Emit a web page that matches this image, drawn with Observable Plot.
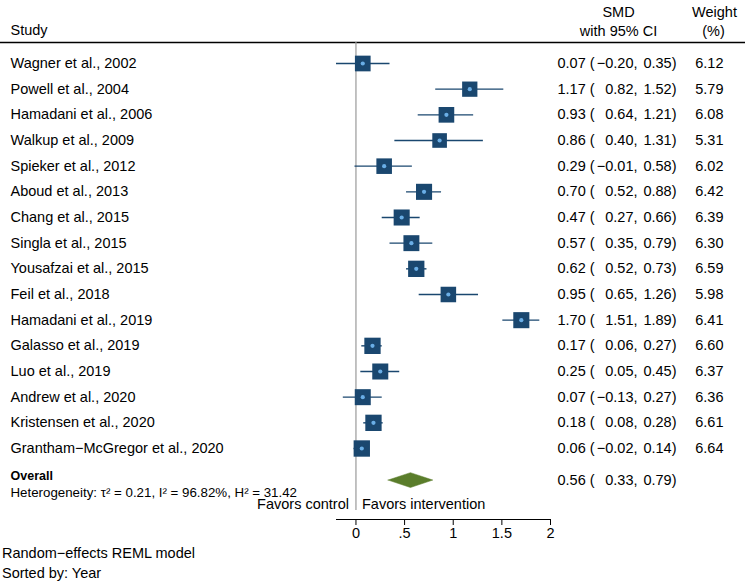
<!DOCTYPE html>
<html>
<head>
<meta charset="utf-8">
<script src="https://cdn.jsdelivr.net/npm/d3@7"></script>
<script src="https://cdn.jsdelivr.net/npm/@observablehq/plot@0.6"></script>
<style>
  html, body { margin: 0; padding: 0; background: white; }
  #chart { width: 745px; }
  .foot { font-family: "Liberation Sans", Arial, sans-serif; font-size: 14.5px; line-height: 20px; padding-left: 2px; margin-top: -2px; color: black; }
</style>
</head>
<body>
<div id="chart"></div>
<div class="foot">Random−effects REML model<br>Sorted by: Year</div>
<script>
const studies = [
  "Wagner et al., 2002", "Powell et al., 2004", "Hamadani et al., 2006", "Walkup et al., 2009",
  "Spieker et al., 2012", "Aboud et al., 2013", "Chang et al., 2015", "Singla et al., 2015",
  "Yousafzai et al., 2015", "Feil et al., 2018", "Hamadani et al., 2019", "Galasso et al., 2019",
  "Luo et al., 2019", "Andrew et al., 2020", "Kristensen et al., 2020", "Grantham−McGregor et al., 2020"
];
const est = [0.07, 1.17, 0.93, 0.86, 0.29, 0.70, 0.47, 0.57, 0.62, 0.95, 1.70, 0.17, 0.25, 0.07, 0.18, 0.06];
const lo  = [-0.20, 0.82, 0.64, 0.40, -0.01, 0.52, 0.27, 0.35, 0.52, 0.65, 1.51, 0.06, 0.05, -0.13, 0.08, -0.02];
const hi  = [0.35, 1.52, 1.21, 1.31, 0.58, 0.88, 0.66, 0.79, 0.73, 1.26, 1.89, 0.27, 0.45, 0.27, 0.28, 0.14];
const weights = [6.12, 5.79, 6.08, 5.31, 6.02, 6.42, 6.39, 6.30, 6.59, 5.98, 6.41, 6.60, 6.37, 6.36, 6.61, 6.64];
const overallEst = 0.56, overallLo = 0.33, overallHi = 0.79;
const heterogeneity = "Heterogeneity: τ² = 0.21, I² = 96.82%, H² = 31.42";
const tickValues = [0, 0.5, 1, 1.5, 2];
const tickLabels = ["0", ".5", "1", "1.5", "2"];

// layout (row positions)
const overallRow = 16.23, overallLabelRow = 16.07, hetRow = 16.71, favorsRow = 17.18;
const yTop = -0.818, yBottom = 17.766;

const fmt = v => (v < 0 ? "−" : "") + Math.abs(v).toFixed(2);
const rows = studies.map((s, i) => ({study: s, idx: i, est: est[i], lo: lo[i], hi: hi[i], w: weights[i]}));
const overall = [{idx: overallRow, est: overallEst, lo: overallLo, hi: overallHi}];
const allRows = rows.concat(overall);
const h = 0.29;
const diamond = [
  {x: overallLo, y: overallRow}, {x: overallEst, y: overallRow - h},
  {x: overallHi, y: overallRow}, {x: overallEst, y: overallRow + h}, {x: overallLo, y: overallRow}
];

const navy = "#1a476f";
const dotBlue = "#6aaee6";
const green = "#5a7d2b";
const font = "'Liberation Sans', Arial, sans-serif";

const plot = Plot.plot({
  width: 745, height: 545,
  marginTop: 42, marginBottom: 26, marginLeft: 336, marginRight: 195,
  style: {fontFamily: font, fontSize: "14.5px", color: "black", background: "white", overflow: "visible"},
  x: {domain: [-0.2, 2]},
  y: {domain: [yTop, yBottom], reverse: true, axis: null},
  r: {domain: [0, 6.12], range: [0, 8.86]},
  marks: [
    Plot.ruleY([yTop], {insetLeft: -336, insetRight: -195, stroke: "black", strokeWidth: 1.6}),
    Plot.ruleY([yBottom], {stroke: "black", strokeWidth: 1.2}),
    Plot.ruleX([0], {stroke: "#9a9a9a", strokeWidth: 1.2, insetBottom: 9}),
    Plot.ruleY(rows, {y: "idx", x1: "lo", x2: "hi", stroke: navy, strokeWidth: 1.4}),
    Plot.dot(rows, {x: "est", y: "idx", r: "w", symbol: "square", fill: navy, stroke: "none"}),
    Plot.dot(rows, {x: "est", y: "idx", r: 2.1, fill: dotBlue, stroke: "none"}),
    Plot.line(diamond, {x: "x", y: "y", fill: green, stroke: green, strokeWidth: 0.5}),
    // study labels
    Plot.text(rows, {y: "idx", text: "study", frameAnchor: "left", dx: -326, textAnchor: "start"}),
    // CI columns
    Plot.text(allRows, {y: "idx", text: d => fmt(d.est) + " (", frameAnchor: "right", dx: 7, textAnchor: "start"}),
    Plot.text(allRows, {y: "idx", text: d => fmt(d.lo) + ",", frameAnchor: "right", dx: 87, textAnchor: "end"}),
    Plot.text(allRows, {y: "idx", text: d => fmt(d.hi) + ")", frameAnchor: "right", dx: 126, textAnchor: "end"}),
    Plot.text(rows, {y: "idx", text: d => d.w.toFixed(2), frameAnchor: "right", dx: 173, textAnchor: "end"}),
    // headers
    Plot.text(["Study"], {y: -1.29, text: d => d, frameAnchor: "left", dx: -326, textAnchor: "start"}),
    Plot.text(["SMD"], {y: -1.98, text: d => d, frameAnchor: "right", dx: 68, textAnchor: "middle"}),
    Plot.text(["with 95% CI"], {y: -1.27, text: d => d, frameAnchor: "right", dx: 68, textAnchor: "middle"}),
    Plot.text(["Weight"], {y: -1.98, text: d => d, frameAnchor: "right", dx: 164, textAnchor: "middle"}),
    Plot.text(["(%)"], {y: -1.27, text: d => d, frameAnchor: "right", dx: 163, textAnchor: "middle"}),
    // overall
    Plot.text(["Overall"], {y: overallLabelRow, text: d => d, frameAnchor: "left", dx: -326, textAnchor: "start", fontWeight: "bold", fontSize: 12.5}),
    Plot.text([heterogeneity], {y: hetRow, text: d => d, frameAnchor: "left", dx: -326, textAnchor: "start", fontSize: 13.3}),
    // favors
    Plot.text(["Favors control"], {x: 0, y: favorsRow, text: d => d, textAnchor: "end", dx: -7}),
    Plot.text(["Favors intervention"], {x: 0, y: favorsRow, text: d => d, textAnchor: "start", dx: 6}),
    Plot.axisX({ticks: tickValues, tickFormat: (d) => tickLabels[tickValues.indexOf(d)], tickSize: 6, tickPadding: 2, fontSize: 14.5, label: null, stroke: "black"})
  ]
});
document.getElementById("chart").appendChild(plot);
</script>
</body>
</html>
